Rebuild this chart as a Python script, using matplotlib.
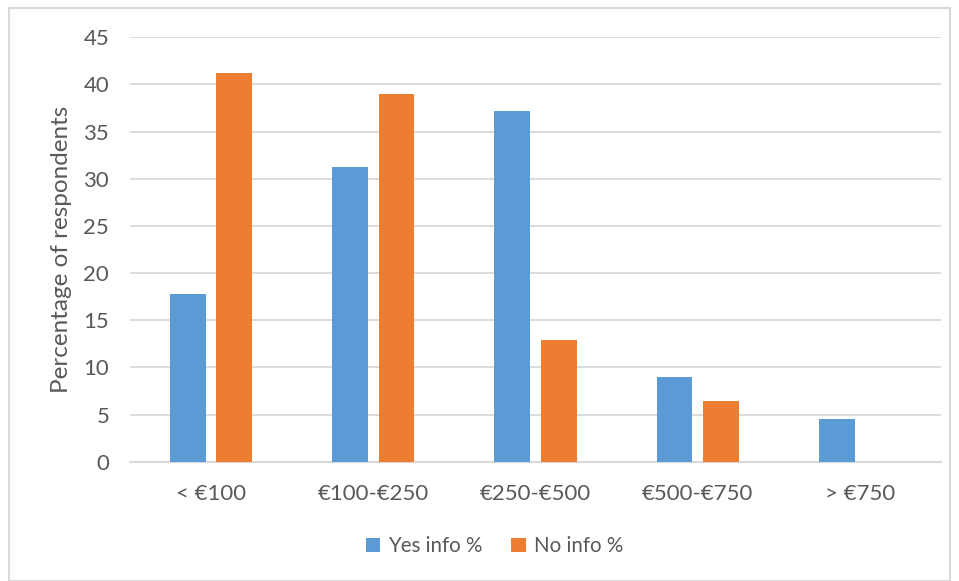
import numpy as np
import matplotlib.pyplot as plt
from matplotlib.patches import Rectangle

plt.rcParams['font.family'] = ['Lato', 'DejaVu Sans']

categories = ['< €100', '€100-€250', '€250-€500', '€500-€750', '> €750']
yes_info = [17.8, 31.3, 37.2, 9.0, 4.5]
no_info = [41.2, 39.0, 12.9, 6.4, 0.0]

text_col = '#595959'
grid_col = '#D9D9D9'

fig = plt.figure(figsize=(9.59, 5.81), dpi=100)
ax = fig.add_axes([0.1356, 0.2053, 0.8456, 0.7305])

x = np.arange(len(categories))
w = 0.22
off = 0.143
ax.bar(x - off, yes_info, w, color='#5B9BD5', label='Yes info %', zorder=3)
ax.bar(x + off, no_info, w, color='#ED7D31', label='No info %', zorder=3)

ax.set_xlim(-0.5, len(categories) - 0.5)
ax.set_ylim(0, 45)
ax.set_yticks(np.arange(0, 46, 5))
ax.set_xticks(x)
ax.set_xticklabels(categories)
ax.grid(axis='y', color=grid_col, linewidth=1.3, zorder=0)
for s in ['top', 'right', 'left']:
    ax.spines[s].set_visible(False)
ax.spines['bottom'].set_color(grid_col)
ax.spines['bottom'].set_linewidth(1.5)
ax.tick_params(axis='both', length=0, colors=text_col, labelsize=16)
ax.tick_params(axis='x', pad=16)
ax.tick_params(axis='y', pad=15)
ax.set_ylabel('Percentage of respondents', fontsize=17.5, color=text_col, labelpad=8)

fig.legend(loc='center', bbox_to_anchor=(494.5 / 959, 1 - 546 / 581), ncol=2,
           frameon=False, fontsize=14.8, labelcolor=text_col,
           handlelength=0.7, handleheight=0.7, handletextpad=0.4, columnspacing=1.4)

fig.patches.append(Rectangle((9 / 959, 0), 941 / 959, 1 - 8 / 581, transform=fig.transFigure,
                             fill=False, edgecolor=grid_col, linewidth=1.5))

fig.savefig('out.png', dpi=100)
